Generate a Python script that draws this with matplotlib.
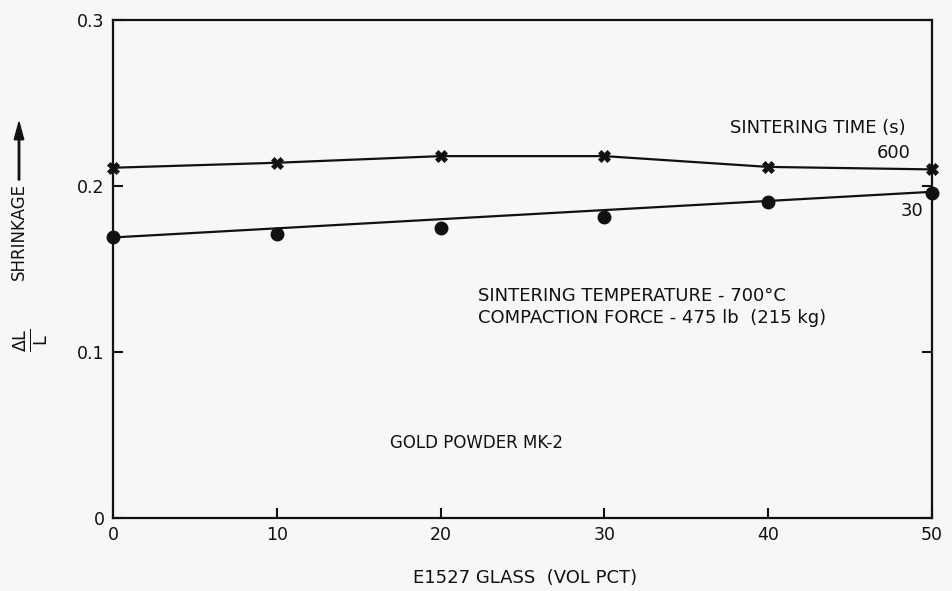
import matplotlib
matplotlib.use("Agg")
import matplotlib.pyplot as plt

# Data
glass_pct = [0, 10, 20, 30, 40, 50]
shrink_600 = [0.2110, 0.2140, 0.2180, 0.2180, 0.2115, 0.2100]
shrink_30 = [0.1690, 0.1710, 0.1745, 0.1815, 0.1905, 0.1955]
fit30_x = [0, 50]
fit30_y = [0.1690, 0.1965]

x_ticks = [0, 10, 20, 30, 40, 50]
y_ticks = [0, 0.1, 0.2, 0.3]
y_ticklabels = ["0", "0.1", "0.2", "0.3"]

plt.rcParams['font.family'] = ['DejaVu Sans']
W, H = 953, 591
fig = plt.figure(figsize=(W / 100, H / 100), dpi=100)
bg = '#f7f7f5'
fig.patch.set_facecolor(bg)

def fx(px):
    return px / W

def fy(py):
    return 1 - py / H

ax = fig.add_axes([fx(113), fy(518), fx(932) - fx(113), fy(20) - fy(518)])
ax.set_facecolor(bg)
ink = '#111111'

ax.plot(glass_pct, shrink_600, color=ink, lw=1.6, marker='X', ms=8,
        mfc=ink, mec=ink, mew=0.5, clip_on=False, zorder=3)
ax.plot(glass_pct, shrink_30, linestyle='none', marker='o', ms=9,
        color=ink, clip_on=False, zorder=3)
ax.plot(fit30_x, fit30_y, color=ink, lw=1.6, clip_on=False, zorder=2)

ax.set_xlim(0, 50)
ax.set_ylim(0, 0.3)
ax.set_xticks(x_ticks)
ax.set_xticklabels([str(v) for v in x_ticks])
ax.set_yticks(y_ticks)
ax.set_yticklabels(y_ticklabels)
ax.tick_params(direction='in', length=7, width=1.5, labelsize=12.5,
               colors=ink, right=True, top=False, pad=6)
for s in ax.spines.values():
    s.set_linewidth(1.6)
    s.set_color(ink)

ax.text(48.4, 0.235, "SINTERING TIME (s)", ha='right', va='center', fontsize=13, color=ink)
ax.text(48.7, 0.220, "600", ha='right', va='center', fontsize=13, color=ink)
ax.text(49.5, 0.185, "30", ha='right', va='center', fontsize=13, color=ink)
ax.text(22.3, 0.1337, "SINTERING TEMPERATURE - 700\u00b0C", ha='left', va='center', fontsize=13, color=ink)
ax.text(22.3, 0.1205, "COMPACTION FORCE - 475 lb  (215 kg)", ha='left', va='center', fontsize=13, color=ink)
ax.text(16.9, 0.0452, "GOLD POWDER MK-2", ha='left', va='center', fontsize=12, color=ink)

fig.text(fx(525), fy(578), "E1527 GLASS  (VOL PCT)", ha='center', va='center', fontsize=13, color=ink)
fig.text(fx(19), fy(232), "SHRINKAGE", rotation=90, ha='center', va='center', fontsize=12, color=ink)
fig.text(fx(31), fy(340), r"$\mathregular{\frac{\Delta L}{L}}$", rotation=90, ha='center', va='center', fontsize=18, color=ink)
fig.patches.append(matplotlib.patches.FancyArrow(
    fx(19), fy(180), 0, fy(122) - fy(180), width=0.0015, head_width=0.01,
    head_length=0.03, length_includes_head=True, color=ink, transform=fig.transFigure))

fig.savefig("out.png", dpi=100, facecolor=fig.get_facecolor())
